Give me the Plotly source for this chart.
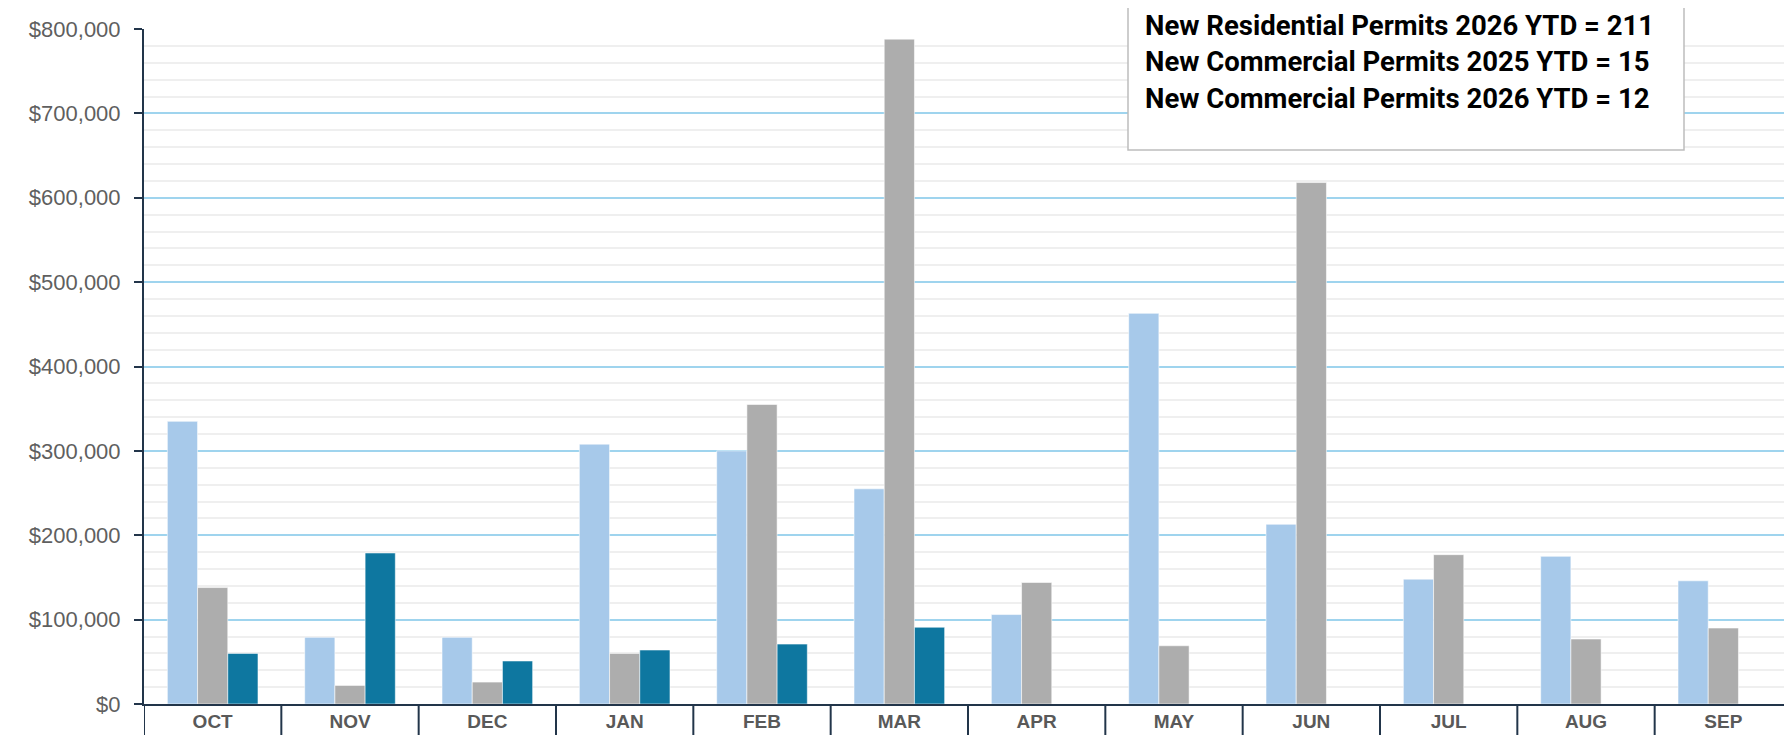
import plotly.graph_objects as go

months = ["OCT", "NOV", "DEC", "JAN", "FEB", "MAR", "APR", "MAY", "JUN", "JUL", "AUG", "SEP"]
fy2024 = [335000, 79000, 79000, 308000, 300000, 255000, 106000, 463000, 213000, 148000, 175000, 146000]
fy2025 = [138000, 22000, 26000, 60000, 355000, 788000, 144000, 69000, 618000, 177000, 77000, 90000]
fy2026 = [60000, 179000, 51000, 64000, 71000, 91000, None, None, None, None, None, None]

series_names = ["FY 2024", "FY 2025", "FY 2026"]
series_colors = ["#A7C9EA", "#ADADAD", "#0E77A0"]

box_lines = [
    "New Residential Permits 2026 YTD = 211",
    "New Commercial Permits 2025 YTD = 15",
    "New Commercial Permits 2026 YTD = 12",
]

y_ticks = list(range(0, 800001, 100000))
y_labels = ["${:,}".format(v) for v in y_ticks]

# page is offset by the default 8px body margin
OFF = 8
W, H = 1792 - OFF, 735 - OFF
PL, PR, PT, PB = 144, 1792, 29, 704          # plot area in page pixels
ML, MR, MT = PL - OFF, 0, PT - OFF
MB = H - (PB - OFF)
PW, PH = PR - PL, PB - PT

fig = go.Figure()
for name, vals, col in zip(series_names, [fy2024, fy2025, fy2026], series_colors):
    fig.add_trace(go.Bar(
        x=list(range(len(months))), y=vals, name=name,
        marker=dict(color=col, line=dict(color="rgba(255,255,255,0.55)", width=1)),
    ))

AXIS = "#22354A"
fig.update_layout(
    width=W, height=H,
    margin=dict(l=ML, r=MR, t=MT, b=MB, pad=0),
    paper_bgcolor="white", plot_bgcolor="white",
    barmode="group", bargap=0.34, bargroupgap=0,
    showlegend=False,
    font=dict(family="Liberation Sans, Arial, sans-serif"),
)
fig.update_xaxes(
    range=[-0.5, len(months) - 0.5],
    tickmode="array", tickvals=list(range(len(months))), ticktext=months,
    tickfont=dict(size=19, color="#595959", family="Liberation Sans, Arial", weight="bold"),
    showgrid=False, ticks="", showline=True, linecolor=AXIS, linewidth=2,
    ticklabelstandoff=-1,
)
fig.update_yaxes(
    range=[0, 800000],
    tickmode="array", tickvals=y_ticks, ticktext=y_labels,
    tickfont=dict(size=22, color="#5F5F5F"),
    ticks="outside", ticklen=8, tickcolor=AXIS, tickwidth=2,
    showline=True, linecolor=AXIS, linewidth=2,
    showgrid=True, gridcolor="#9FD4EE", gridwidth=2,
    minor=dict(dtick=20000, showgrid=True, gridcolor="#EFEFEF", gridwidth=1.5, ticks=""),
    ticklabelstandoff=9, zeroline=False,
)

# category separators below the x axis
for i in range(len(months) + 1):
    fig.add_shape(type="line", xref="x", yref="paper",
                  x0=i - 0.5, x1=i - 0.5, y0=0, y1=-(MB + 2) / PH,
                  line=dict(color=AXIS, width=2), layer="above")

# info text box (top cut off by the figure edge)
bx0, bx1, by1 = 1128, 1684, 150
fig.add_shape(type="rect", xref="paper", yref="paper",
              x0=(bx0 - PL) / PW, x1=(bx1 - PL) / PW,
              y0=(PB - by1) / PH, y1=(PB + 10) / PH,
              line=dict(color="#BDBDBD", width=1.5), fillcolor="white", layer="above")
for txt, ypix in zip(box_lines, [25, 61.5, 98]):
    fig.add_annotation(xref="paper", yref="paper",
                       x=(1144 - PL) / PW, y=(PB - ypix) / PH,
                       xanchor="left", yanchor="middle", showarrow=False, borderpad=0,
                       text="<b>" + txt + "</b>",
                       font=dict(size=27.5, color="#000000", family="Roboto, Liberation Sans, Arial"))

fig.write_html("out.html")
